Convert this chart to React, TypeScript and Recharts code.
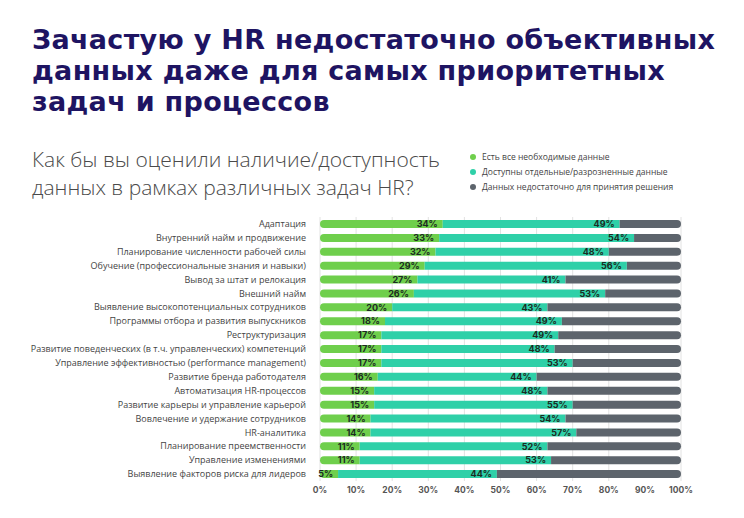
import React from "react";
import { BarChart, Bar, XAxis, YAxis, CartesianGrid, LabelList } from "recharts";

const categories = [
  "Адаптация",
  "Внутренний найм и продвижение",
  "Планирование численности рабочей силы",
  "Обучение (профессиональные знания и навыки)",
  "Вывод за штат и релокация",
  "Внешний найм",
  "Выявление высокопотенциальных сотрудников",
  "Программы отбора и развития выпускников",
  "Реструктуризация",
  "Развитие поведенческих (в т.ч. управленческих) компетенций",
  "Управление эффективностью (performance management)",
  "Развитие бренда работодателя",
  "Автоматизация HR-процессов",
  "Развитие карьеры и управление карьерой",
  "Вовлечение и удержание сотрудников",
  "HR-аналитика",
  "Планирование преемственности",
  "Управление изменениями",
  "Выявление факторов риска для лидеров",
];

const allData = [34, 33, 32, 29, 27, 26, 20, 18, 17, 17, 17, 16, 15, 15, 14, 14, 11, 11, 5];
const partialData = [49, 54, 48, 56, 41, 53, 43, 49, 49, 48, 53, 44, 48, 55, 54, 57, 52, 53, 44];

const seriesNames = [
  "Есть все необходимые данные",
  "Доступны отдельные/разрозненные данные",
  "Данных недостаточно для принятия решения",
];
const colors = ["#6fcf4c", "#2fd0a8", "#5d646c"];
const xTicks = [0, 10, 20, 30, 40, 50, 60, 70, 80, 90, 100];

const data = categories.map((name, i) => ({
  name,
  all: allData[i],
  partial: partialData[i],
  none: 100 - allData[i] - partialData[i],
}));

const labelStyle = { fontSize: 9, fontWeight: 700, fill: "#1c2b22", fontFamily: "Inter, 'Noto Sans', sans-serif" };

const CategoryTick = (props: any) => {
  const { x, y, payload } = props;
  return (
    <text x={x} y={y} dy="0.35em" textAnchor="end" fontSize={9} fill="#444" fontFamily="'Open Sans', sans-serif">
      {payload.value}
    </text>
  );
};

export default function App() {
  return (
    <div style={{ position: "absolute", left: 0, top: 0, width: 744, height: 518, background: "#fff", overflow: "hidden" }}>
      <div
        style={{
          position: "absolute",
          left: 32,
          top: 24,
          fontFamily: "'DejaVu Sans', sans-serif",
          fontWeight: 700,
          fontSize: 27,
          lineHeight: "31px",
          color: "#1e1462",
          letterSpacing: 0.3,
          whiteSpace: "nowrap",
        }}
      >
        <div>Зачастую у HR недостаточно объективных</div>
        <div>данных даже для самых приоритетных</div>
        <div>задач и процессов</div>
      </div>
      <div
        style={{
          position: "absolute",
          left: 32,
          top: 145,
          fontFamily: "'Open Sans', sans-serif",
          fontWeight: 300,
          fontSize: 21,
          lineHeight: "28px",
          color: "#4a4a4a",
          whiteSpace: "nowrap",
        }}
      >
        <div>Как бы вы оценили наличие/доступность</div>
        <div>данных в рамках различных задач HR?</div>
      </div>
      <div style={{ position: "absolute", left: 470, top: 149, fontFamily: "'Open Sans', sans-serif", fontSize: 8.5, color: "#444" }}>
        {seriesNames.map((n, i) => (
          <div key={n} style={{ display: "flex", alignItems: "center", height: 15 }}>
            <span style={{ width: 6, height: 6, borderRadius: 3, background: colors[i], marginRight: 6, display: "inline-block" }} />
            <span>{n}</span>
          </div>
        ))}
      </div>
      <div style={{ position: "absolute", left: 0, top: 0 }}>
        <BarChart
          width={744}
          height={518}
          layout="vertical"
          data={data}
          margin={{ top: 217, right: 63, bottom: 7, left: 10 }}
          barSize={8}
        >
          <CartesianGrid horizontal={false} stroke="#e2e2e2" />
          <XAxis
            type="number"
            domain={[0, 100]}
            ticks={xTicks}
            tickFormatter={(v) => `${v}%`}
            axisLine={false}
            tickLine={false}
            tickSize={0}
            tickMargin={6}
            height={30}
            tick={{ fontSize: 8.5, fontWeight: 700, fill: "#555", fontFamily: "Inter, 'Noto Sans', sans-serif" }}
          />
          <YAxis
            type="category"
            dataKey="name"
            width={310}
            axisLine={false}
            tickLine={false}
            tickSize={0}
            tickMargin={14}
            interval={0}
            tick={<CategoryTick />}
          />
          <Bar dataKey="all" stackId="a" fill={colors[0]} radius={[4, 0, 0, 4]} isAnimationActive={false}>
            <LabelList dataKey="all" position="insideRight" offset={5} formatter={(v: number) => `${v}%`} style={labelStyle} />
          </Bar>
          <Bar dataKey="partial" stackId="a" fill={colors[1]} isAnimationActive={false}>
            <LabelList dataKey="partial" position="insideRight" offset={5} formatter={(v: number) => `${v}%`} style={labelStyle} />
          </Bar>
          <Bar dataKey="none" stackId="a" fill={colors[2]} radius={[0, 4, 4, 0]} isAnimationActive={false} />
        </BarChart>
      </div>
    </div>
  );
}
